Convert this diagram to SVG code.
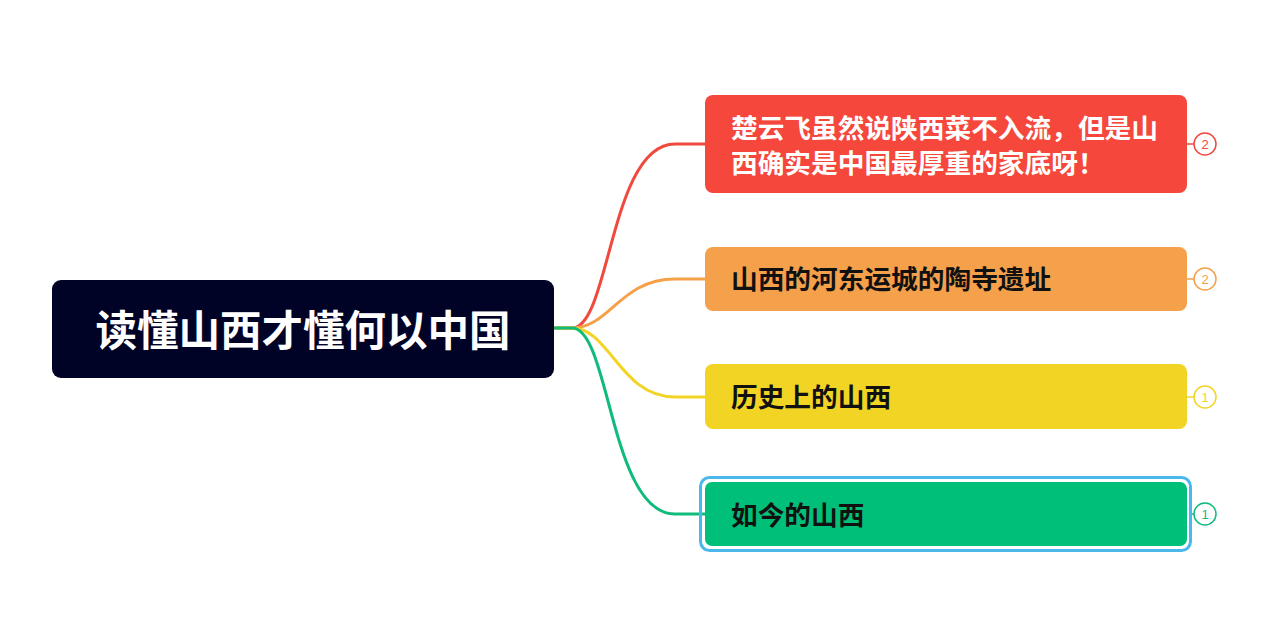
<svg xmlns="http://www.w3.org/2000/svg" width="1280" height="636" viewBox="0 0 1280 636">
<style>
.t{font-family:"Noto Sans CJK SC","Noto Sans",sans-serif;font-weight:bold;font-size:26.7px}
.c{fill:#fff;stroke-width:1.5}
.n{font-family:"Liberation Sans",sans-serif;font-size:13px;text-anchor:middle}
.l{fill:none;stroke-width:3}
</style>
<rect width="1280" height="636" fill="#fff"/>
<g id="connectors">
<path class="l" stroke="#f0493d" d="M554 328 H572 C610 328 610 144 675 144 H705"/>
<path class="l" stroke="#f4a14a" d="M554 328 H572 C610 328 620 279 675 279 H705"/>
<path class="l" stroke="#f2d424" d="M554 328 H572 C610 328 620 397 675 397 H705"/>
<path class="l" stroke="#10bb7c" d="M554 328 H572 C610 328 610 514 675 514 H705"/>
<path fill="none" stroke-width="1.5" stroke="#f0493d" d="M1187 144 H1194"/>
<path fill="none" stroke-width="1.5" stroke="#f4a14a" d="M1187 279 H1194"/>
<path fill="none" stroke-width="1.5" stroke="#f2d424" d="M1187 397 H1194"/>
<path fill="none" stroke-width="1.5" stroke="#10bb7c" d="M1191 514 H1194"/>
</g>
<g id="root">
<rect x="52" y="280" width="502" height="98" rx="9" fill="#000326"/>
<text x="303" y="346" text-anchor="middle" fill="#fff" font-family="'Noto Sans CJK SC',sans-serif" font-weight="bold" font-size="41.5">读懂山西才懂何以中国</text>
</g>
<g id="n1">
<rect x="705" y="95" width="482" height="98" rx="8" fill="#f5473b"/>
<text class="t" x="731" y="138" fill="#fff">楚云飞虽然说陕西菜不入流，但是山</text>
<text class="t" x="731" y="173" fill="#fff">西确实是中国最厚重的家底呀！</text>
<circle class="c" cx="1205" cy="144" r="11" stroke="#f0493d"/>
<text class="n" x="1205" y="149" fill="#f0493d">2</text>
</g>
<g id="n2">
<rect x="705" y="247" width="482" height="64" rx="8" fill="#f5a04b"/>
<text class="t" x="731" y="289" fill="#111">山西的河东运城的陶寺遗址</text>
<circle class="c" cx="1205" cy="279" r="11" stroke="#f4a14a"/>
<text class="n" x="1205" y="284" fill="#f4a14a">2</text>
</g>
<g id="n3">
<rect x="705" y="364" width="482" height="65" rx="8" fill="#f2d424"/>
<text class="t" x="731" y="407" fill="#111">历史上的山西</text>
<circle class="c" cx="1205" cy="397" r="11" stroke="#f2d424"/>
<text class="n" x="1205" y="402" fill="#f2d424">1</text>
</g>
<g id="n4">
<rect x="700.5" y="477.5" width="490" height="73" rx="9" fill="none" stroke="#4ab8ea" stroke-width="3"/>
<rect x="705" y="482" width="482" height="64" rx="7" fill="#00bf78"/>
<text class="t" x="731" y="525" fill="#111">如今的山西</text>
<circle class="c" cx="1205" cy="514" r="11" stroke="#10bb7c"/>
<text class="n" x="1205" y="519" fill="#10bb7c">1</text>
</g>
</svg>
